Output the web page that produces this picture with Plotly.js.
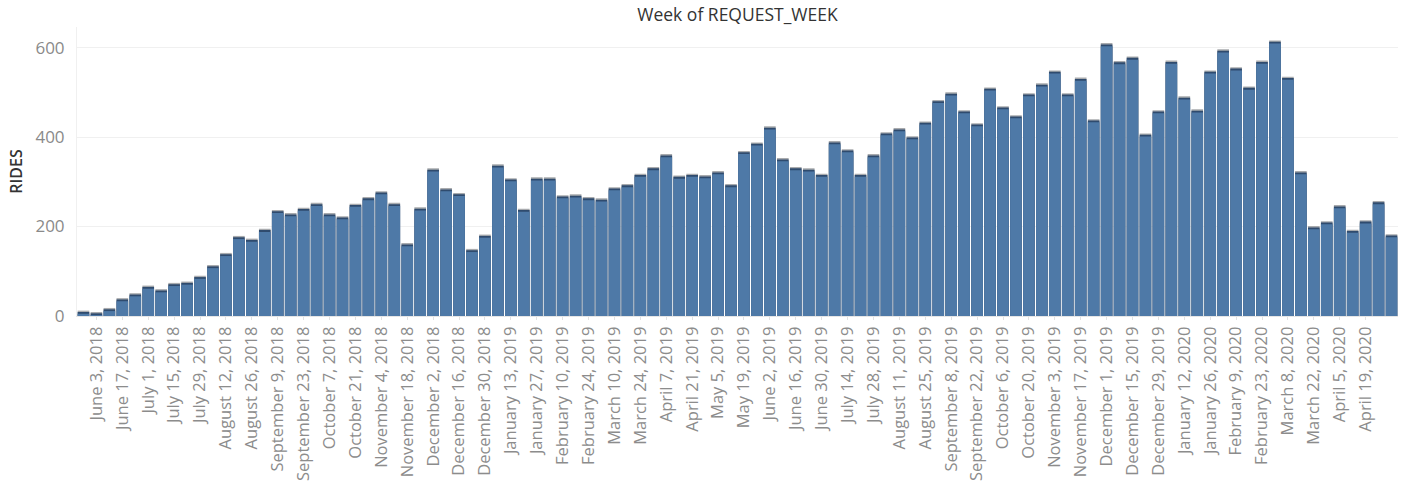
<!DOCTYPE html>
<html>
<head>
<meta charset="utf-8">
<script src="https://cdn.plot.ly/plotly-3.0.1.min.js"></script>
<style>
  html, body { margin: 0; padding: 0; background: #fff; }
  #chart { width: 1408px; height: 490px; }
</style>
</head>
<body>
<div id="chart"></div>
<script>
// Week start dates (categories)
const weeks2018 = [
  "May 27, 2018", "June 3, 2018", "June 10, 2018", "June 17, 2018", "June 24, 2018",
  "July 1, 2018", "July 8, 2018", "July 15, 2018", "July 22, 2018", "July 29, 2018",
  "August 5, 2018", "August 12, 2018", "August 19, 2018", "August 26, 2018",
  "September 2, 2018", "September 9, 2018", "September 16, 2018", "September 23, 2018", "September 30, 2018",
  "October 7, 2018", "October 14, 2018", "October 21, 2018", "October 28, 2018",
  "November 4, 2018", "November 11, 2018", "November 18, 2018", "November 25, 2018",
  "December 2, 2018", "December 9, 2018", "December 16, 2018", "December 23, 2018", "December 30, 2018"
];
const weeks2019 = [
  "January 6, 2019", "January 13, 2019", "January 20, 2019", "January 27, 2019",
  "February 3, 2019", "February 10, 2019", "February 17, 2019", "February 24, 2019",
  "March 3, 2019", "March 10, 2019", "March 17, 2019", "March 24, 2019", "March 31, 2019",
  "April 7, 2019", "April 14, 2019", "April 21, 2019", "April 28, 2019",
  "May 5, 2019", "May 12, 2019", "May 19, 2019", "May 26, 2019",
  "June 2, 2019", "June 9, 2019", "June 16, 2019", "June 23, 2019", "June 30, 2019",
  "July 7, 2019", "July 14, 2019", "July 21, 2019", "July 28, 2019",
  "August 4, 2019", "August 11, 2019", "August 18, 2019", "August 25, 2019",
  "September 1, 2019", "September 8, 2019", "September 15, 2019", "September 22, 2019", "September 29, 2019",
  "October 6, 2019", "October 13, 2019", "October 20, 2019", "October 27, 2019",
  "November 3, 2019", "November 10, 2019", "November 17, 2019", "November 24, 2019",
  "December 1, 2019", "December 8, 2019", "December 15, 2019", "December 22, 2019", "December 29, 2019"
];
const weeks2020 = [
  "January 5, 2020", "January 12, 2020", "January 19, 2020", "January 26, 2020",
  "February 2, 2020", "February 9, 2020", "February 16, 2020", "February 23, 2020",
  "March 1, 2020", "March 8, 2020", "March 15, 2020", "March 22, 2020", "March 29, 2020",
  "April 5, 2020", "April 12, 2020", "April 19, 2020", "April 26, 2020",
  "May 3, 2020"
];

// Rides per week
const rides2018 = [
  12, 9, 18, 40, 51, 68, 60, 74, 77, 90,
  114, 141, 179, 173, 195, 237, 230, 242, 253, 230,
  223, 251, 266, 279, 253, 163, 243, 330, 286, 275,
  150, 182
];
const rides2019 = [
  339, 308, 240, 310, 310, 270, 272, 266,
  263, 288, 295, 318, 333, 362, 314, 318, 315, 324,
  295, 369, 388, 424, 353, 333, 330, 318, 391, 373,
  318, 362, 411, 420, 402, 435, 483, 500, 460, 431,
  511, 469, 449, 498, 520, 549, 498, 533, 440, 610,
  570, 580, 408, 460
];
const rides2020 = [
  571, 491, 462, 549, 596, 556, 513, 571, 616, 535,
  324, 201, 212, 248, 193, 214, 257, 183
];

const weeks = weeks2018.concat(weeks2019, weeks2020);
const rides = rides2018.concat(rides2019, rides2020);
// Every other week is labelled, June 3, 2018 through April 19, 2020
const tickLabels = weeks.filter((w, i) => i % 2 === 1 && i < weeks.length - 1);

const yTicks = [0, 200, 400, 600];

const capGray = rides;
const capDark = rides.map(v => v - 3);
const body = rides.map(v => v - 7);

const traces = [
  { type: 'bar', x: weeks, y: capGray, marker: { color: '#a9abae', line: { width: 0 } }, hoverinfo: 'skip' },
  { type: 'bar', x: weeks, y: capDark, marker: { color: '#2f4b6e', line: { width: 0 } }, hoverinfo: 'skip' },
  { type: 'bar', x: weeks, y: body, marker: { color: '#4e79a7', line: { width: 0 } },
    hovertemplate: '%{x}<br>RIDES: %{customdata}<extra></extra>', customdata: rides }
];

const layout = {
  width: 1408,
  height: 490,
  margin: { l: 77, r: 10, t: 27, b: 174 },
  paper_bgcolor: '#ffffff',
  plot_bgcolor: '#ffffff',
  barmode: 'overlay',
  bargap: 0.1,
  showlegend: false,
  font: { family: 'Open Sans, sans-serif', color: '#333' },
  title: {
    text: 'Week of REQUEST_WEEK',
    font: { size: 17.5, color: '#333333', family: 'Open Sans, sans-serif' },
    x: 0.5, xref: 'paper', xanchor: 'center',
    y: 0.97, yref: 'container', yanchor: 'middle'
  },
  xaxis: {
    type: 'category',
    range: [-0.5, weeks.length - 0.5],
    tickmode: 'array',
    tickvals: tickLabels,
    ticktext: tickLabels,
    tickangle: -90,
    tickfont: { size: 16.5, color: '#8c8c8c' },
    ticks: 'outside',
    ticklen: 3,
    tickcolor: '#e2e2e2',
    showgrid: false,
    showline: true,
    linecolor: '#e6e6e6',
    linewidth: 1,
    zeroline: false
  },
  yaxis: {
    range: [0, 646],
    tickmode: 'array',
    tickvals: yTicks,
    ticktext: yTicks.map(String),
    tickfont: { size: 17, color: '#8a8a8a' },
    ticks: '',
    ticklabelstandoff: 8,
    showgrid: true,
    gridcolor: '#f0f0f0',
    gridwidth: 1,
    showline: true,
    linecolor: '#f0f0f0',
    zeroline: false,
    title: { text: 'RIDES', font: { size: 16, color: '#333333', weight: 600 }, standoff: 8 }
  }
};

Plotly.newPlot('chart', traces, layout, { displayModeBar: false, staticPlot: true });
</script>
</body>
</html>
